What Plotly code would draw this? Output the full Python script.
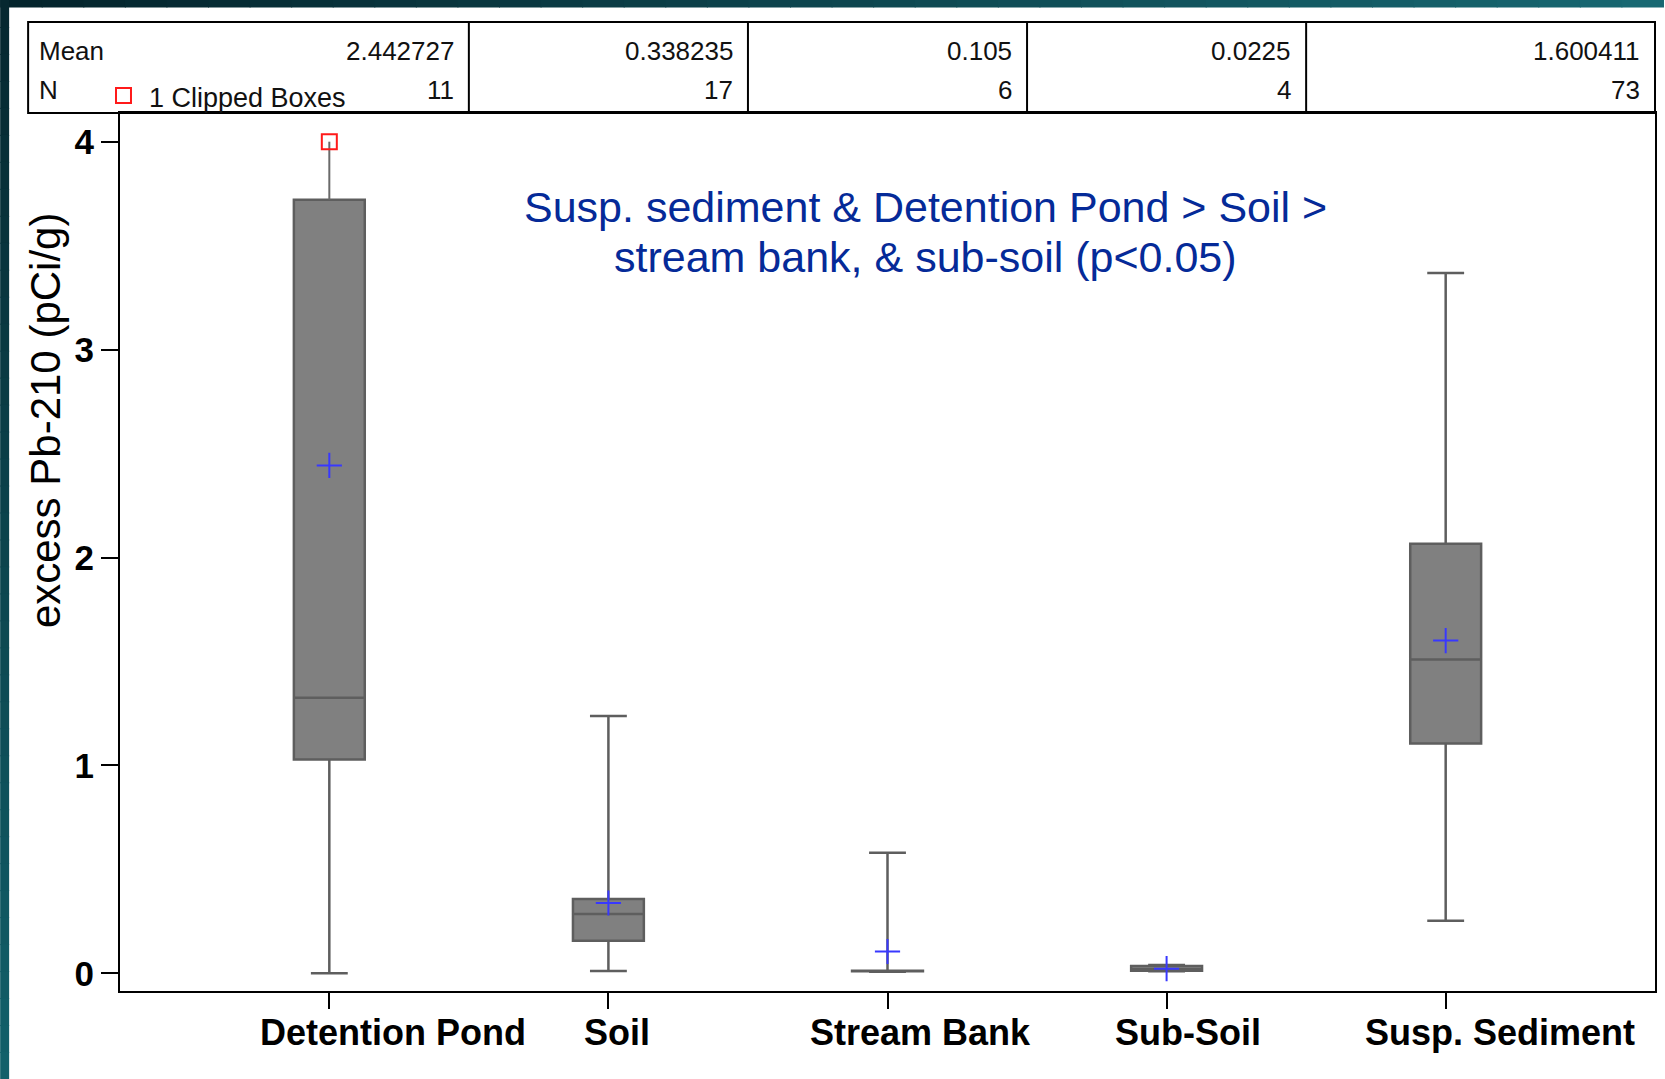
import plotly.graph_objects as go

# ---------------- data ----------------
categories = ["Detention Pond", "Soil", "Stream Bank", "Sub-Soil", "Susp. Sediment"]
lower_whisker = [0.0, 0.011, 0.008, 0.010, 0.253]
q1_values = [1.029, 0.157, 0.010, 0.012, 1.106]
median_values = [1.326, 0.285, 0.010, 0.020, 1.510]
q3_values = [3.721, 0.357, 0.012, 0.035, 2.066]
upper_whisker = [3.721, 1.238, 0.580, 0.040, 3.369]
mean_values = [2.442727, 0.338235, 0.105, 0.0225, 1.600411]
mean_labels = ["2.442727", "0.338235", "0.105", "0.0225", "1.600411"]
n_values = [11, 17, 6, 4, 73]
clipped_category = "Detention Pond"
clipped_value = 4.0
y_ticks = [0, 1, 2, 3, 4]
y_title = "excess Pb-210 (pCi/g)"
note_lines = ["Susp. sediment & Detention Pond > Soil >",
              "stream bank, & sub-soil (p<0.05)"]

# ---------------- layout helpers (pixel -> paper) ----------------
W, H = 1665, 1079
L, R, T, B = 120, 1657, 113, 991


def px(x):
    return (x - L) / (R - L)


def py(y):
    return (B - y) / (B - T)


FONT = "Liberation Sans, Arial, sans-serif"
label_shift = [64, 9, 33, 21, 54]

fig = go.Figure()

ci = categories.index(clipped_category)
fig.add_trace(go.Scatter(
    x=[clipped_category, clipped_category], y=[q3_values[ci], clipped_value],
    mode="lines", line=dict(color="#6a6a6a", width=2),
    showlegend=False, hoverinfo="skip"))

fig.add_trace(go.Box(
    x=categories, q1=q1_values, median=median_values, q3=q3_values,
    lowerfence=lower_whisker, upperfence=upper_whisker,
    width=0.254, whiskerwidth=0.52, boxpoints=False,
    fillcolor="#808080", line=dict(color="#5e5e5e", width=2.5),
    showlegend=False))

fig.add_trace(go.Scatter(
    x=[clipped_category], y=[clipped_value], mode="markers",
    marker=dict(symbol="square-open", size=15, color="#ff1a1a",
                line=dict(width=2, color="#ff1a1a")),
    cliponaxis=False, showlegend=False))

fig.add_trace(go.Scatter(
    x=categories, y=mean_values, mode="markers",
    marker=dict(symbol="cross-thin", size=18,
                line=dict(width=2, color="#3838ff")),
    showlegend=False))

shapes = []
# teal gradient frame (top and left strips)
nseg = 40
for k in range(nseg):
    t = k / (nseg - 1)
    r = int(4 + (24 - 4) * t)
    g = int(36 + (104 - 36) * t)
    b = int(44 + (114 - 44) * t)
    x0 = W * k / nseg
    x1 = W * (k + 1) / nseg + 1
    shapes.append(dict(type="rect", xref="paper", yref="paper",
                       x0=px(x0), x1=px(x1), y0=py(7.5), y1=py(0),
                       fillcolor=f"rgb({r},{g},{b})", line=dict(width=0),
                       layer="below"))
for k in range(nseg):
    t = k / (nseg - 1)
    r = int(6 + (18 - 6) * t)
    g = int(40 + (96 - 40) * t)
    b = int(48 + (106 - 48) * t)
    y0 = H * k / nseg
    y1 = H * (k + 1) / nseg + 1
    shapes.append(dict(type="rect", xref="paper", yref="paper",
                       x0=px(0), x1=px(9), y0=py(y1), y1=py(y0),
                       fillcolor=f"rgb({r},{g},{b})", line=dict(width=0),
                       layer="below"))

# statistics table frame
shapes.append(dict(type="rect", xref="paper", yref="paper",
                   x0=px(28), x1=1.0, y0=1.0, y1=py(22),
                   line=dict(color="black", width=2)))
for i in range(len(categories) - 1):
    shapes.append(dict(type="line", xref="x", yref="paper",
                       x0=i + 0.5, x1=i + 0.5, y0=1.0, y1=py(22),
                       line=dict(color="black", width=2)))
# clipped-box legend symbol
shapes.append(dict(type="rect", xref="paper", yref="paper",
                   x0=px(116), x1=px(131), y0=py(103), y1=py(88),
                   line=dict(color="#ff1a1a", width=2)))

annotations = []
tab_font = dict(family=FONT, size=26, color="#111111")
annotations.append(dict(text="Mean", xref="paper", yref="paper", x=px(37), y=py(51.5),
                        xanchor="left", yanchor="middle", showarrow=False, font=tab_font))
annotations.append(dict(text="N", xref="paper", yref="paper", x=px(37), y=py(90),
                        xanchor="left", yanchor="middle", showarrow=False, font=tab_font))
annotations.append(dict(text="1 Clipped Boxes", xref="paper", yref="paper", x=px(147), y=py(98),
                        xanchor="left", yanchor="middle", showarrow=False,
                        font=dict(family=FONT, size=27, color="#111111")))
for i in range(len(categories)):
    xr = i + 0.5 if i < len(categories) - 1 else 4.75
    annotations.append(dict(text=mean_labels[i], xref="x", yref="paper", x=xr, xshift=-13,
                            y=py(51.5), xanchor="right", yanchor="middle",
                            showarrow=False, font=tab_font))
    annotations.append(dict(text=str(n_values[i]), xref="x", yref="paper", x=xr, xshift=-13,
                            y=py(90), xanchor="right", yanchor="middle",
                            showarrow=False, font=tab_font))

# category labels
for i, c in enumerate(categories):
    annotations.append(dict(text="<b>" + c + "</b>", xref="x", yref="paper", x=c,
                            xshift=label_shift[i], y=py(1032), xanchor="center",
                            yanchor="middle", showarrow=False,
                            font=dict(family=FONT, size=36, color="black")))

# y axis title
annotations.append(dict(text=y_title, xref="paper", yref="paper", x=px(45), y=py(420),
                        xanchor="center", yanchor="middle", textangle=-90, showarrow=False,
                        font=dict(family=FONT, size=42, color="black")))

# significance note
for j, line in enumerate(note_lines):
    annotations.append(dict(text=line, xref="paper", yref="paper", x=px(927), y=py(207 + 50 * j),
                            xanchor="center", yanchor="middle", showarrow=False,
                            font=dict(family=FONT, size=43, color="#052a98")))

fig.update_layout(
    width=W, height=H,
    margin=dict(l=L, r=W - R, t=T, b=H - B, pad=0),
    paper_bgcolor="white", plot_bgcolor="white",
    shapes=shapes, annotations=annotations,
    xaxis=dict(type="category", categoryorder="array", categoryarray=categories,
               range=[-0.75, 4.75], showline=True, mirror=True, linecolor="black",
               linewidth=2, ticks="outside", ticklen=16, tickwidth=2, tickcolor="black",
               showticklabels=False, showgrid=False, zeroline=False),
    yaxis=dict(range=[-0.085, 4.138], tickvals=y_ticks,
               ticktext=["<b>%d</b>" % v for v in y_ticks], ticks="outside", ticklen=17,
               tickwidth=2, tickcolor="black", showline=True, mirror=True,
               linecolor="black", linewidth=2, showgrid=False, zeroline=False,
               tickfont=dict(family=FONT, size=35, color="black")),
)

fig.write_html("out.html")
